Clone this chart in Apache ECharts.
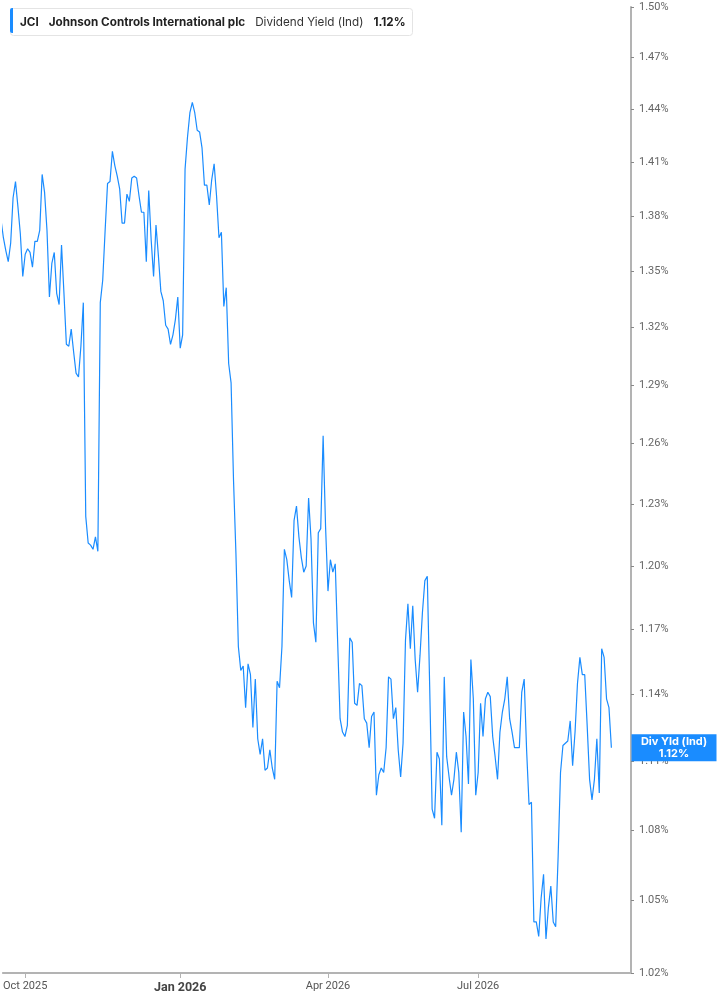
<!DOCTYPE html>
<html>
<head>
<meta charset="utf-8">
<script src="https://cdn.jsdelivr.net/npm/echarts@6/dist/echarts.min.js"></script>
<style>
  html, body { margin: 0; padding: 0; background: #fff; }
  #chart { width: 717px; height: 1005px; }
</style>
</head>
<body>
<div id="chart"></div>
<script>
// JCI dividend yield (ind), one value per trading day starting 2025-09-17
let startDate = '2025-09-17'
let holidays = ['2025-11-27', '2025-12-25', '2026-01-01', '2026-01-19', '2026-02-16',
    '2026-04-03', '2026-05-25', '2026-06-19', '2026-07-03', '2026-09-07']

let yields = [
    1.378, 1.368, 1.361, 1.355, 1.365, 1.390, 1.399, 1.385, 1.370, 1.347,
    1.359, 1.362, 1.360, 1.352, 1.366, 1.366, 1.372, 1.403, 1.393, 1.372,
    1.336, 1.354, 1.360, 1.338, 1.332, 1.364, 1.338, 1.311, 1.310, 1.319,
    1.307, 1.296, 1.294, 1.310, 1.333, 1.224, 1.211, 1.210, 1.208, 1.214,
    1.207, 1.333, 1.345, 1.372, 1.398, 1.399, 1.416, 1.408, 1.402, 1.395,
    1.376, 1.376, 1.392, 1.388, 1.401, 1.402, 1.401, 1.391, 1.382, 1.382,
    1.355, 1.394, 1.367, 1.347, 1.375, 1.358, 1.339, 1.334, 1.321, 1.319,
    1.311, 1.316, 1.324, 1.336, 1.309, 1.316, 1.406, 1.424, 1.438, 1.444,
    1.438, 1.428, 1.427, 1.418, 1.397, 1.397, 1.386, 1.400, 1.409, 1.391,
    1.368, 1.371, 1.331, 1.341, 1.301, 1.291, 1.242, 1.206, 1.162, 1.151,
    1.153, 1.134, 1.154, 1.149, 1.125, 1.147, 1.120, 1.113, 1.120, 1.106,
    1.107, 1.115, 1.107, 1.102, 1.146, 1.143, 1.162, 1.208, 1.203, 1.193,
    1.185, 1.222, 1.229, 1.214, 1.204, 1.197, 1.200, 1.233, 1.213, 1.173,
    1.164, 1.216, 1.218, 1.264, 1.219, 1.188, 1.203, 1.197, 1.201, 1.164,
    1.129, 1.123, 1.121, 1.126, 1.166, 1.164, 1.136, 1.135, 1.145, 1.144,
    1.129, 1.127, 1.116, 1.130, 1.132, 1.095, 1.104, 1.107, 1.105, 1.116,
    1.148, 1.147, 1.129, 1.134, 1.115, 1.103, 1.118, 1.165, 1.182, 1.161,
    1.181, 1.156, 1.141, 1.158, 1.178, 1.193, 1.195, 1.143, 1.089, 1.085,
    1.114, 1.111, 1.082, 1.148, 1.112, 1.103, 1.095, 1.102, 1.114, 1.105,
    1.079, 1.132, 1.121, 1.100, 1.156, 1.138, 1.095, 1.105, 1.136, 1.121,
    1.138, 1.141, 1.139, 1.121, 1.112, 1.102, 1.123, 1.132, 1.138, 1.148,
    1.129, 1.123, 1.116, 1.116, 1.116, 1.141, 1.147, 1.115, 1.091, 1.092,
    1.041, 1.041, 1.035, 1.051, 1.061, 1.034, 1.047, 1.056, 1.041, 1.039,
    1.068, 1.105, 1.117, 1.118, 1.119, 1.128, 1.108, 1.123, 1.145, 1.157,
    1.149, 1.149, 1.126, 1.102, 1.093, 1.102, 1.120, 1.096, 1.161, 1.157,
    1.138, 1.134, 1.116
]

// right axis tick labels (%), axis is log scaled
let yTicks = [1.02, 1.05, 1.08, 1.11, 1.14, 1.17, 1.20, 1.23, 1.26, 1.29, 1.32, 1.35, 1.38, 1.41, 1.44, 1.47, 1.50]
// quarter months that get a label on the time axis
let labelMonths = [0, 3, 6, 9]
let monthNames = ['Jan', 'Feb', 'Mar', 'Apr', 'May', 'Jun', 'Jul', 'Aug', 'Sep', 'Oct', 'Nov', 'Dec']

let blue = '#1a8cff'

// build the list of trading days
let dates = []
let d = new Date(startDate + 'T00:00:00Z')
while (dates.length < yields.length) {
    let iso = d.toISOString().slice(0, 10)
    let wd = d.getUTCDay()
    if (wd !== 0 && wd !== 6 && holidays.indexOf(iso) === -1) dates.push(new Date(d))
    d.setUTCDate(d.getUTCDate() + 1)
}

// first trading day of each labelled quarter
let tickIdx = []
for (let i = 1; i < dates.length; i++) {
    let m = dates[i].getUTCMonth()
    if (m !== dates[i - 1].getUTCMonth() && labelMonths.indexOf(m) !== -1) tickIdx.push(i)
}

let seriesData = yields.map(function(v, i) { return [i, Math.log(v)] })
let last = yields[yields.length - 1]
let lastText = last.toFixed(2) + '%'
let xMin = 0.78
let xMax = 260.1

let chart = echarts.init(document.getElementById('chart'))

let option = {
    backgroundColor: '#fff',
    animation: false,
    title: {
        left: 10,
        top: 8,
        padding: [5, 7, 5, 10],
        backgroundColor: '#fff',
        borderColor: '#e4e4e4',
        borderWidth: 1,
        borderRadius: 3,
        text: '{b|JCI}  {b|Johnson Controls International plc}  {n|Dividend Yield (Ind)}  {b|' + lastText + '}',
        textStyle: {
            rich: {
                b: { fontFamily: 'Inter', fontSize: 11.7, fontWeight: 'bold', color: '#222' },
                n: { fontFamily: 'Inter', fontSize: 11.7, fontWeight: 'normal', color: '#333' }
            }
        }
    },
    graphic: [{
        type: 'rect',
        left: 10,
        top: 8,
        shape: { width: 3, height: 25, r: [2, 0, 0, 2] },
        style: { fill: blue },
        z: 100
    }],
    grid: { left: 0, right: 86, top: 7, bottom: 32 },
    xAxis: {
        type: 'value',
        min: xMin,
        max: xMax,
        splitLine: { show: false },
        axisLine: { lineStyle: { color: '#b3b3b3', width: 2 } },
        axisTick: { show: true, customValues: tickIdx, length: 5, lineStyle: { color: '#b3b3b3' } },
        axisLabel: {
            customValues: tickIdx,
            margin: 8,
            fontFamily: 'Roboto',
            fontSize: 11,
            color: '#555',
            formatter: function(v) {
                let dt = dates[Math.round(v)]
                let s = monthNames[dt.getUTCMonth()] + ' ' + dt.getUTCFullYear()
                return dt.getUTCMonth() === 0 ? '{y|' + s + '}' : s
            },
            rich: {
                y: { fontFamily: 'Roboto', fontSize: 12.5, fontWeight: 'bold', color: '#444' }
            }
        }
    },
    yAxis: {
        type: 'value',
        position: 'right',
        min: Math.log(yTicks[0]),
        max: Math.log(yTicks[yTicks.length - 1]),
        splitLine: { show: false },
        axisLine: { show: true, lineStyle: { color: '#b3b3b3', width: 2 } },
        axisTick: { show: true, customValues: yTicks.map(Math.log), length: 3, lineStyle: { color: '#888' } },
        axisLabel: {
            customValues: yTicks.map(Math.log),
            margin: 8,
            fontFamily: 'Roboto',
            fontSize: 11,
            color: '#666',
            formatter: function(v) { return Math.exp(v).toFixed(2) + '%' }
        }
    },
    series: [{
        type: 'line',
        data: seriesData,
        showSymbol: false,
        symbol: 'none',
        lineStyle: { color: blue, width: 1.2 },
        markPoint: {
            symbol: 'rect',
            symbolSize: [85, 27],
            symbolOffset: [43, 0],
            itemStyle: { color: blue },
            label: {
                show: true,
                position: 'inside',
                color: '#fff',
                fontFamily: 'Inter',
                fontSize: 11,
                fontWeight: 'bold',
                lineHeight: 12,
                formatter: 'Div Yld (Ind)\n' + lastText
            },
            data: [{ coord: [xMax, Math.log(last)] }]
        }
    }]
}

chart.setOption(option)
</script>
</body>
</html>
